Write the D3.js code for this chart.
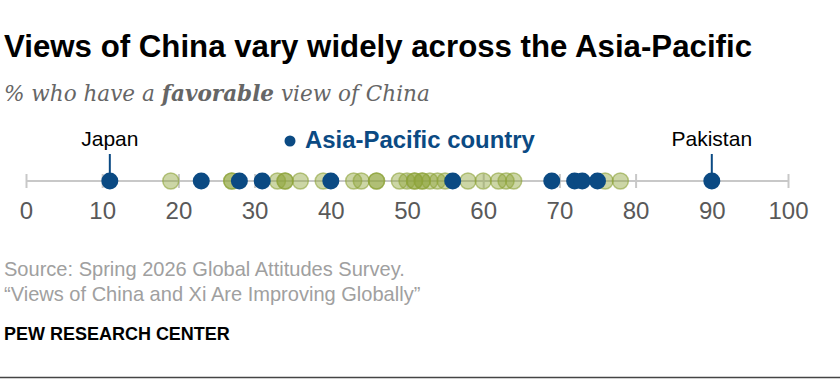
<!DOCTYPE html>
<html><head><meta charset="utf-8">
<script src="https://cdn.jsdelivr.net/npm/d3@7"></script>
<style>
html,body{margin:0;padding:0;background:#fff;}
svg{display:block;}
</style></head>
<body>
<svg id="chart" width="840" height="380"></svg>
<script>
// ---- data ----
const otherCountries = [19, 27, 27, 33, 34, 34, 36, 39, 43, 44, 46, 46, 49, 50, 51, 51, 52, 52, 53, 54, 55, 58, 60, 62, 63, 64, 76, 78];
const asiaPacific = [11, 23, 28, 31, 40, 56, 69, 72, 73, 75, 90];
const labeledNames = ["Japan", "Pakistan"];
const labeledValues = [11, 90];
const tickValues = [0, 10, 20, 30, 40, 50, 60, 70, 80, 90, 100];

const svg = d3.select("#chart");
const sans = "'Liberation Sans', Arial, sans-serif";
const blue = "#0b4a83";
const olive = "#8ea33a";

// scale a text's font-size so it spans the given width
function fit(sel, width) {
  const w = sel.node().getComputedTextLength();
  const fs = parseFloat(sel.style("font-size"));
  sel.style("font-size", (fs * width / w) + "px");
  return sel;
}

// title
const title = svg.append("text").attr("x", 4).attr("y", 57)
  .style("font-family", sans)
  .style("font-weight", "bold").style("font-size", "31px").attr("fill", "#000")
  .attr("textLength", 748).attr("lengthAdjust", "spacingAndGlyphs")
  .text("Views of China vary widely across the Asia-Pacific");

// subtitle
const sub = svg.append("text").attr("x", 4).attr("y", 101)
  .style("font-family", "'DejaVu Serif',serif")
  .style("font-style", "italic").style("font-size", "20px").attr("fill", "#666");
sub.append("tspan").text("% who have a ");
sub.append("tspan").style("font-weight", "bold").text("favorable");
sub.append("tspan").text(" view of China");
fit(sub, 426);

const x = d3.scaleLinear().domain([0, 100]).range([26, 788]);
const axisY = 181;

// axis line
svg.append("line").attr("x1", x(0)).attr("x2", x(100)).attr("y1", axisY).attr("y2", axisY)
  .attr("stroke", "#c8c8c8").attr("stroke-width", 2);

// axis ticks + labels via d3 axis
const axis = d3.axisBottom(x).tickValues(tickValues).tickSize(0).tickPadding(0).tickFormat(d3.format("d"));
const gAxis = svg.append("g").attr("transform", `translate(0,${axisY})`).call(axis);
gAxis.select(".domain").remove();
gAxis.selectAll(".tick line").attr("y1", -7).attr("y2", 7).attr("stroke", "#c8c8c8").attr("stroke-width", 2);
gAxis.selectAll(".tick text").attr("y", 38).attr("dy", null)
  .style("font-family", sans).style("font-size", "24px").attr("fill", "#595959");

// other countries
svg.append("g").selectAll("circle").data(otherCountries).join("circle")
  .attr("cx", d => x(d)).attr("cy", axisY).attr("r", 8)
  .attr("fill", olive).attr("fill-opacity", 0.45)
  .attr("stroke", olive).attr("stroke-opacity", 0.6).attr("stroke-width", 1.5);

// leader lines + labels
labeledValues.forEach((v, i) => {
  svg.append("line").attr("x1", x(v)).attr("x2", x(v)).attr("y1", 154).attr("y2", axisY)
    .attr("stroke", blue).attr("stroke-width", 2);
  svg.append("text").attr("x", x(v)).attr("y", 146).attr("text-anchor", "middle")
    .style("font-family", sans).style("font-size", "21px").attr("fill", "#000")
    .text(labeledNames[i]);
});

// asia pacific
svg.append("g").selectAll("circle").data(asiaPacific).join("circle")
  .attr("cx", d => x(d)).attr("cy", axisY).attr("r", 8.5).attr("fill", blue);

// legend
svg.append("circle").attr("cx", 290).attr("cy", 141).attr("r", 5.5).attr("fill", blue);
const leg = svg.append("text").attr("x", 305).attr("y", 148)
  .style("font-family", sans).style("font-weight", "bold").style("font-size", "21px").attr("fill", blue)
  .text("Asia-Pacific country");
fit(leg, 230);

// source
const s1 = svg.append("text").attr("x", 4).attr("y", 276)
  .style("font-family", sans).style("font-size", "17px").attr("fill", "#a0a0a0")
  .text("Source: Spring 2026 Global Attitudes Survey.");
fit(s1, 401);
const s2 = svg.append("text").attr("x", 4).attr("y", 301)
  .style("font-family", sans).style("font-size", s1.style("font-size")).attr("fill", "#a0a0a0")
  .text("\u201cViews of China and Xi Are Improving Globally\u201d");
const pew = svg.append("text").attr("x", 4).attr("y", 340)
  .style("font-family", sans).style("font-weight", "bold").style("font-size", "17px").attr("fill", "#000")
  .text("PEW RESEARCH CENTER");
fit(pew, 226);

// bottom rule
svg.append("line").attr("x1", 0).attr("x2", 840).attr("y1", 377.5).attr("y2", 377.5)
  .attr("stroke", "#444").attr("stroke-width", 1.5);
</script>
</body></html>
